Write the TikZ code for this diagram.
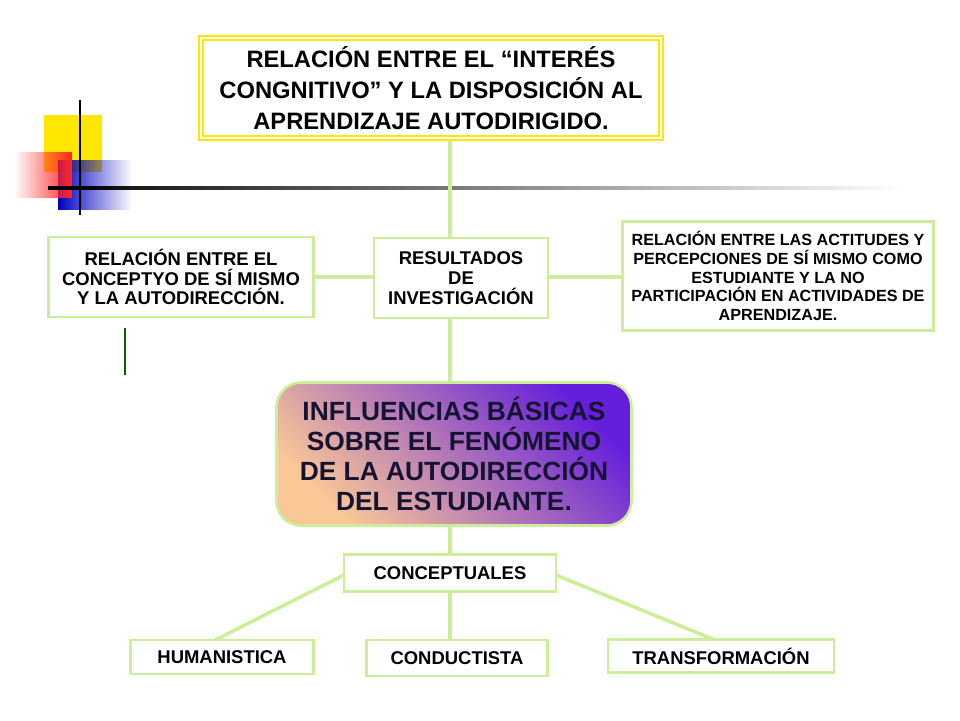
\documentclass[tikz,border=0pt]{standalone}
\usepackage{fontspec}
\setmainfont{Liberation Sans}
\usetikzlibrary{shapes,arrows,fit,positioning,fadings}
\definecolor{lgreen}{RGB}{204,238,153}
\definecolor{peach}{RGB}{250,200,150}
\definecolor{violet}{RGB}{100,30,220}
\definecolor{navy}{RGB}{20,20,50}
\begin{document}
\begin{tikzpicture}[x=0.02cm,y=-0.02cm,% px units, y downwards
				every node/.style={
					align=center,
					font=\bfseries,
					inner sep=1pt
				},
				box/.style={rectangle,draw=lgreen,line width=1.5pt,fill=white},
				link/.style={draw=lgreen,line width=2pt}
			]
			\useasboundingbox (0,0) rectangle (960,720);
			% decoration
			\fill[yellow!90!orange] (44,115) rectangle (102,172);
			\fill[blue!75!black,path fading=east] (58,160) rectangle (132,210);
			\fill[red!85,path fading=west] (14,152) rectangle (72,198);
			\draw[line width=1.5pt] (80,100) -- (80,215);
			\draw[line width=2pt,path fading=east] (48,188) -- (900,188);
			\draw[green!40!black,line width=1pt] (125,328) -- (125,375);
			% links
			\draw[link] (450,139) -- (450,383);
			\draw[link] (314,277) -- (623,277);
			\draw[link] (450,526) -- (450,640);
			\draw[link] (344,575) -- (215,640);
			\draw[link] (556,575) -- (715,640);
			% nodes
			\node[rectangle,draw=yellow!90!orange,double=white,double distance=1.5pt,line width=1pt,fill=white,minimum width=9.2cm,minimum height=2cm,font=\bfseries\fontsize{13.5}{17.6}\selectfont](R1) at (431,88){RELACIÓN ENTRE EL “INTERÉS\\CONGNITIVO” Y LA DISPOSICIÓN AL\\APRENDIZAJE AUTODIRIGIDO.};
			\node[box,minimum width=3.48cm,minimum height=1.6cm,font=\bfseries\fontsize{10.5}{11.3}\selectfont](R2) at (461,278){RESULTADOS\\DE\\INVESTIGACIÓN};
			\node[box,minimum width=5.3cm,minimum height=1.6cm,font=\bfseries\fontsize{10.5}{11.3}\selectfont](R3) at (181,277){RELACIÓN ENTRE EL\\CONCEPTYO DE SÍ MISMO\\Y LA AUTODIRECCIÓN.};
			\node[box,minimum width=6.22cm,minimum height=2.18cm,font=\bfseries\fontsize{9.2}{10.6}\selectfont](R4) at (778,276){RELACIÓN ENTRE LAS ACTITUDES Y\\PERCEPCIONES DE SÍ MISMO COMO\\ESTUDIANTE Y LA NO\\PARTICIPACIÓN EN ACTIVIDADES DE\\APRENDIZAJE.};
			\node[rectangle,rounded corners=14pt,draw=lgreen,line width=1.5pt,left color=peach,right color=violet,shading angle=135,minimum width=7.1cm,minimum height=2.86cm,text=navy,font=\bfseries\fontsize{15}{17}\selectfont](R5) at (454,454){INFLUENCIAS BÁSICAS\\SOBRE EL FENÓMENO\\DE LA AUTODIRECCIÓN\\DEL ESTUDIANTE.};
			\node[box,minimum width=4.24cm,minimum height=0.74cm,font=\bfseries\fontsize{10.5}{11}\selectfont](R6) at (450,573){CONCEPTUALES};
			\node[box,minimum width=3.66cm,minimum height=0.68cm,font=\bfseries\fontsize{10.5}{10}\selectfont](R7) at (222,657){HUMANISTICA};
			\node[box,minimum width=3.62cm,minimum height=0.72cm,font=\bfseries\fontsize{10.5}{10}\selectfont](R8) at (457,658){CONDUCTISTA};
			\node[box,minimum width=4.52cm,minimum height=0.66cm,font=\bfseries\fontsize{10.5}{10}\selectfont](R9) at (721,656){TRANSFORMACIÓN};
		\end{tikzpicture}
\end{document}
